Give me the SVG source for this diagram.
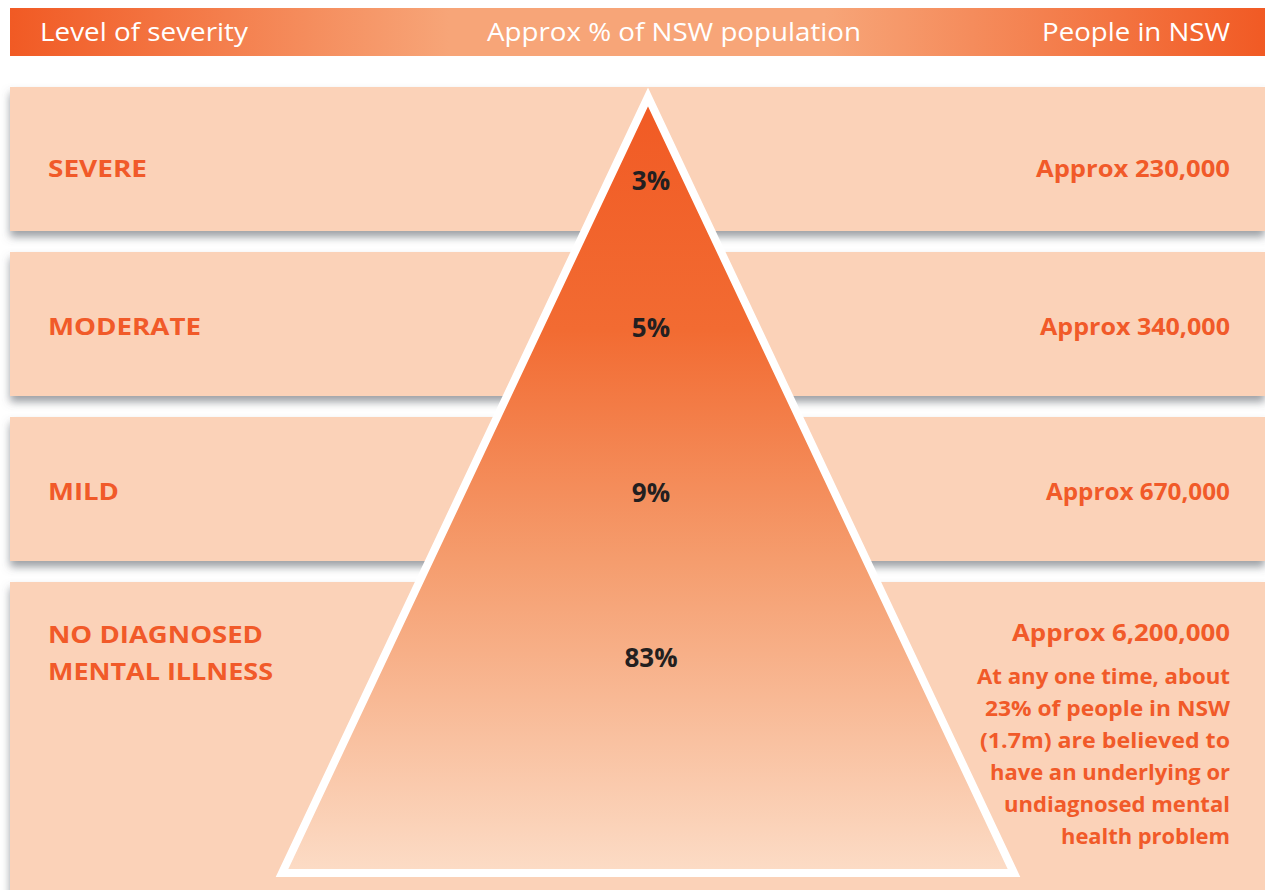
<svg xmlns="http://www.w3.org/2000/svg" width="1265" height="890" viewBox="0 0 1265 890">
<defs>
<linearGradient id="hdr" x1="0" y1="0" x2="1" y2="0">
<stop offset="0" stop-color="#F15A24"/>
<stop offset="0.35" stop-color="#F7A578"/>
<stop offset="0.65" stop-color="#F7A578"/>
<stop offset="1" stop-color="#F15A24"/>
</linearGradient>
<linearGradient id="tri" x1="0" y1="0" x2="0" y2="1">
<stop offset="0" stop-color="#F15A24"/>
<stop offset="0.3" stop-color="#F26B32"/>
<stop offset="0.6" stop-color="#F59D6E"/>
<stop offset="1" stop-color="#FCDCC6"/>
</linearGradient>
<filter id="sh" x="-5%" y="-20%" width="110%" height="150%">
<feDropShadow dx="0" dy="6" stdDeviation="4" flood-color="#5A6068" flood-opacity="0.6"/>
</filter>
<style>
.band{fill:#FBD2B8;filter:url(#sh)}
.hd{font-family:"Open Sans","Liberation Sans",sans-serif;font-size:25px;fill:#FFFFFF}
.lab{font-family:"Open Sans","Liberation Sans",sans-serif;font-size:24px;font-weight:bold;fill:#F15A29}
.num{font-family:"Open Sans","Liberation Sans",sans-serif;font-size:24px;font-weight:bold;fill:#F15A29;text-anchor:end}
.note{font-family:"Open Sans","Liberation Sans",sans-serif;font-size:21.5px;font-weight:bold;fill:#F15A29;text-anchor:end}
.pct{font-family:"Open Sans","Liberation Sans",sans-serif;font-size:26px;font-weight:bold;fill:#231F20;text-anchor:middle}
</style>
</defs>
<rect width="1265" height="890" fill="#FFFFFF"/>
<g id="header">
<rect x="10" y="8" width="1255" height="48" fill="url(#hdr)"/>
<text class="hd" x="40" y="41" textLength="208" lengthAdjust="spacingAndGlyphs">Level of severity</text>
<text class="hd" x="487" y="41" textLength="374" lengthAdjust="spacingAndGlyphs">Approx % of NSW population</text>
<text class="hd" x="1042" y="41" textLength="188" lengthAdjust="spacingAndGlyphs">People in NSW</text>
</g>
<g id="band-severe">
<rect class="band" x="10" y="87" width="1255" height="144"/>
<text class="lab" x="48" y="177" textLength="99" lengthAdjust="spacingAndGlyphs">SEVERE</text>
<text class="num" x="1230" y="177" textLength="194" lengthAdjust="spacingAndGlyphs">Approx 230,000</text>
</g>
<g id="band-moderate">
<rect class="band" x="10" y="252" width="1255" height="144"/>
<text class="lab" x="48" y="335" textLength="153" lengthAdjust="spacingAndGlyphs">MODERATE</text>
<text class="num" x="1230" y="335" textLength="190" lengthAdjust="spacingAndGlyphs">Approx 340,000</text>
</g>
<g id="band-mild">
<rect class="band" x="10" y="417" width="1255" height="144"/>
<text class="lab" x="48" y="500" textLength="71" lengthAdjust="spacingAndGlyphs">MILD</text>
<text class="num" x="1230" y="500" textLength="184" lengthAdjust="spacingAndGlyphs">Approx 670,000</text>
</g>
<g id="band-none">
<rect class="band" x="10" y="582" width="1255" height="320"/>
<text class="lab" x="48" y="643" textLength="215" lengthAdjust="spacingAndGlyphs">NO DIAGNOSED</text>
<text class="lab" x="48" y="680" textLength="225" lengthAdjust="spacingAndGlyphs">MENTAL ILLNESS</text>
<text class="num" x="1230" y="641" textLength="218" lengthAdjust="spacingAndGlyphs">Approx 6,200,000</text>
<text class="note" x="1230" y="684" textLength="253" lengthAdjust="spacingAndGlyphs">At any one time, about</text>
<text class="note" x="1230" y="716" textLength="245" lengthAdjust="spacingAndGlyphs">23% of people in NSW</text>
<text class="note" x="1230" y="748" textLength="250" lengthAdjust="spacingAndGlyphs">(1.7m) are believed to</text>
<text class="note" x="1230" y="780" textLength="240" lengthAdjust="spacingAndGlyphs">have an underlying or</text>
<text class="note" x="1230" y="812" textLength="226" lengthAdjust="spacingAndGlyphs">undiagnosed mental</text>
<text class="note" x="1230" y="844" textLength="169" lengthAdjust="spacingAndGlyphs">health problem</text>
</g>
<g id="pyramid">
<polygon points="648,97 1014,873 282,873" fill="url(#tri)" stroke="#FFFFFF" stroke-width="8" stroke-linejoin="miter"/>
<text class="pct" x="651" y="190">3%</text>
<text class="pct" x="651" y="337">5%</text>
<text class="pct" x="651" y="502">9%</text>
<text class="pct" x="651" y="667">83%</text>
</g>
<g id="connectors"/>
</svg>
